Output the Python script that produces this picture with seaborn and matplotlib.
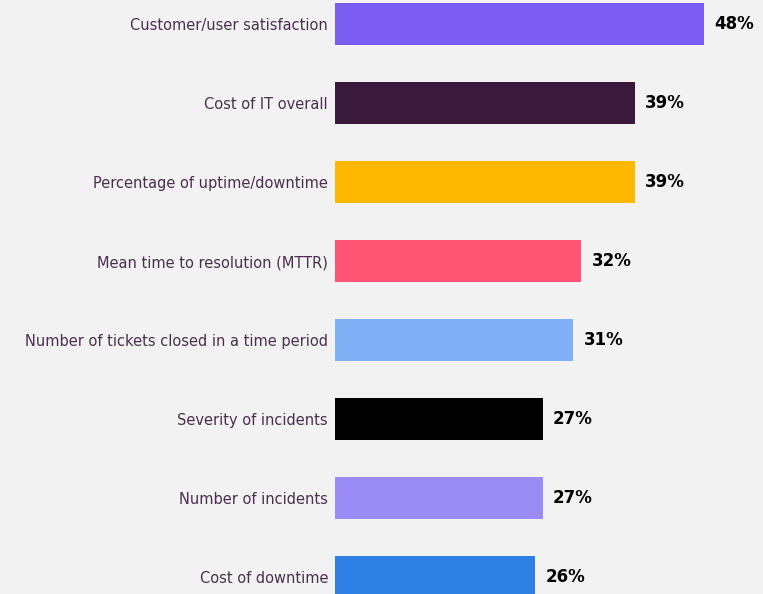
import matplotlib
matplotlib.use("Agg")
import matplotlib.pyplot as plt
import seaborn as sns
import pandas as pd

categories = [
    "Customer/user satisfaction",
    "Cost of IT overall",
    "Percentage of uptime/downtime",
    "Mean time to resolution (MTTR)",
    "Number of tickets closed in a time period",
    "Severity of incidents",
    "Number of incidents",
    "Cost of downtime",
]
values = [48, 39, 39, 32, 31, 27, 27, 26]
colors = ["#7B5CF0", "#3A1A3C", "#FFB800", "#FF5473",
          "#80B0F5", "#000000", "#9B8CF5", "#2E80E4"]

sns.set_theme(style="white")
plt.rcParams["font.family"] = ["DejaVu Sans"]

bg = "#F2F2F2"
df = pd.DataFrame({"metric": categories, "share": values})

fig = plt.figure(figsize=(7.63, 5.94), dpi=100, facecolor=bg)
ax = fig.add_axes([335 / 763, 0.0, 1 - 335 / 763, 1.0])
ax.set_facecolor(bg)

sns.barplot(data=df, x="share", y="metric", hue="metric",
            palette=colors, order=categories, hue_order=categories,
            width=0.532, legend=False, saturation=1, linewidth=0,
            edgecolor="none", ax=ax)

ax.set_xlim(0, 428 / 7.69)
ax.set_ylim((594 - 24) / 79, -24 / 79)

for i, v in enumerate(values):
    ax.annotate(f"{v}%", xy=(v, i), xytext=(7.5, 0), textcoords="offset points",
                ha="left", va="center", fontsize=12, fontweight="bold",
                color="#000000")

ax.set_xlabel("")
ax.set_ylabel("")
ax.set_xticks([])
ax.tick_params(axis="y", length=0, pad=5, labelsize=10.5, labelcolor="#4A2E4E")
for s in ax.spines.values():
    s.set_visible(False)

fig.savefig("out.png", dpi=100, facecolor=bg)
